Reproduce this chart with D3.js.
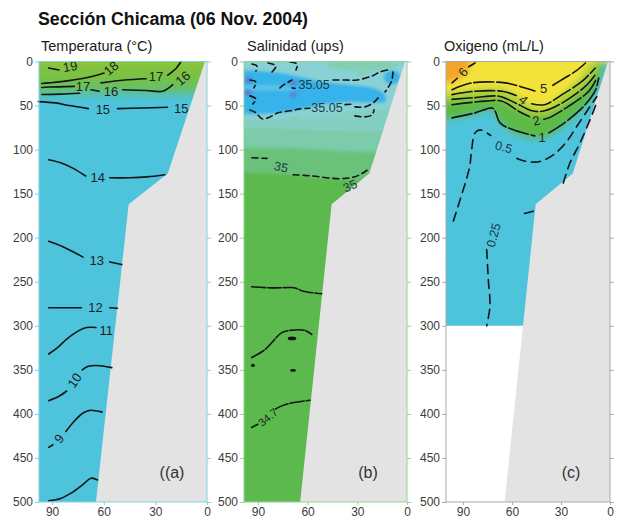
<!DOCTYPE html>
<html>
<head>
<meta charset="utf-8">
<script src="https://cdn.jsdelivr.net/npm/d3@7"></script>
<style>
  body { margin: 0; background: #fff; }
  svg { display: block; font-family: "Liberation Sans", Arial, Helvetica, sans-serif; }
</style>
</head>
<body>
<svg id="chart" width="621" height="520"></svg>
<script>
// ---------- axes ----------
const depthTicks = d3.range(0, 501, 50);      // m
const distTicks = [90, 60, 30, 0];             // km from the coast

// sea-floor profile [km, m]
const shelf = [[0, 0], [1.2, 0], [22.8, 127], [45.5, 162], [64.5, 500], [0, 500]];

// ---------- (a) temperature ----------
// depths where the warm surface layer fades into the 14-15 °C water
const tempSurfaceDepths = [0, 18, 31, 38, 46];
const tempContours = [
  { value: 19, segments: [[[92, 7.4], [86, 9.6]]], labels: [[79.5, 5.5, -10]] },
  { value: 18, segments: [[[96, 25], [91.8, 24.3], [80.2, 21.7], [65.7, 16.4], [59.8, 13]]], labels: [[55.8, 7.5, -40]] },
  { value: 17, segments: [[[61.6, 24.3], [48, 21], [35.4, 19.5]], [[22.8, 15.6], [18, 8], [15.1, 0]]], labels: [[29.6, 17, 0]] },
  { value: 17, segments: [[[96, 29.5], [91.8, 29], [77, 28.2]]], labels: [[72, 28.5, 0]] },
  { value: 16, segments: [[[67.4, 32], [62.6, 33.7]], [[49, 32], [35, 33], [25.7, 33.7], [19.9, 26.3]]], labels: [[55.8, 33.7, 0], [14.1, 19, -40]] },
  { value: 16, segments: [[[96, 37.5], [85, 37], [74, 36]]], labels: [] },
  { value: 15, segments: [[[98, 45.5], [88, 47], [80, 50], [69, 53.5]], [[52, 53.5], [38, 52.8], [23, 52]]], labels: [[60.5, 54, 0], [15, 53, 0]] },
  { value: 14, segments: [[[92, 111.5], [85, 115], [78, 121], [70.5, 130]], [[56.5, 132], [45, 132], [35, 131], [24.4, 128.5]]], labels: [[63.5, 132, 0]] },
  { value: 13, segments: [[[92, 204], [84, 210], [72, 222]], [[56.5, 227.5], [49.5, 230.5]]], labels: [[64, 226, 0]] },
  { value: 12, segments: [[[92, 279.5], [73, 279.5]], [[56.5, 279.5], [52, 280]]], labels: [[64.8, 279.5, 0]] },
  { value: 11, segments: [[[92, 332], [87, 325], [81.5, 315], [75, 306], [70, 302], [64.5, 302]]], labels: [[58.5, 305, 0]] },
  { value: 10, segments: [[[92, 385], [86, 380], [81.5, 374]], [[72.5, 350], [69, 346], [64, 345], [55.3, 347.5]]], labels: [[77, 362, -55]] },
  { value: 9, segments: [[[92, 438], [89.5, 435]], [[82, 420], [77, 408], [72, 399], [68, 396], [61, 398]]], labels: [[86, 428, -50]] },
  { value: 8, segments: [[[92, 498.5], [85, 496], [79, 490], [72, 480], [67.5, 473], [63.5, 475]]], labels: [] }
];

// ---------- (b) salinity ----------
// upper limits of the salinity classes, deepest first
const salLayers = [
  [[98.4, 126], [75, 128], [55, 132], [35, 134], [20, 134], [0, 134]],
  [[98.4, 98], [75, 98], [55, 100], [35, 102], [0, 102]],
  [[98.4, 76], [75, 76], [55, 78], [35, 79], [0, 79]],
  [[98.4, 65], [75, 65], [50, 61], [30, 56], [0, 52]]
];
// core of salinity > 35.05
const salCore = [[98.4, 10], [80.9, 12], [68.8, 15.5], [50.7, 23], [34.4, 26.5], [20.5, 30], [14, 36],
                 [13, 45], [34.4, 46], [50.7, 49], [64.6, 54.5], [80.9, 59], [98.4, 60]];
const salInnerBand = [[98.4, 27], [82, 26.5], [72, 28.5], [66, 31], [72, 33], [82, 33], [98.4, 33]];
// [km, m, half-width km, half-height m]
const salPatchesHigh = [[95.5, 21, 2.4, 4], [68.6, 24.5, 2.2, 3], [68.6, 38, 2.2, 3], [96, 35.5, 2.4, 4]];
const salPatchesCore = [[9, 18, 5, 8]];
const salPatchesLow = [[27, 4, 22, 6], [67.6, 64, 3, 3], [27.3, 13.4, 3, 2.5]];
const salContours = [
  { value: 35.05, segments: [[[93.6, 2.8], [90.6, 5.1], [91.2, 10.8]]], labels: [] },
  { value: 35.05, segments: [[[83.9, 1.7], [79.1, 5.1], [81.5, 11.9]]], labels: [] },
  { value: 35.05, segments: [[[70.6, 0.6], [66.4, 2.8], [67, 9.6]]], labels: [] },
  { value: 35.05, segments: [[[94.8, 21], [91.2, 23.2], [92.4, 30]]], labels: [] },
  { value: 35.05, segments: [[[94.8, 39], [91.2, 42.5], [93, 48.1]]], labels: [] },
  { value: 35.05, segments: [[[76.7, 30], [73.6, 25.5], [69.4, 21]], [[69.4, 30], [67.6, 30.5]],
      [[44.7, 21], [37.4, 21], [30.2, 21], [21.1, 16.4], [16.3, 11.9], [11.5, 9.6]],
      [[8.5, 11.9], [9.1, 21], [11.5, 30], [13.3, 34.5]]], labels: [[56.1, 26.3, 0]] },
  { value: 35.05, segments: [[[94.8, 54.9], [91.2, 58.3], [87.5, 65.1], [82.7, 62.9], [77.9, 58.3], [70.6, 56], [64.6, 53.8], [58.6, 53]],
      [[37.4, 49], [34, 48.5]],
      [[31.4, 51.5], [25.4, 51.5], [20.5, 47], [17.5, 41.3], [16.3, 38]],
      [[31.4, 61.7], [25.4, 62.9], [21.1, 60.6], [19.9, 54.9]]], labels: [[48.3, 52.7, 0]] },
  { value: 35, segments: [[[93.6, 109.3], [84.5, 110]], [[68.8, 128.5], [58.6, 129.7], [40.4, 133], [31.4, 130.8], [25.4, 125.1], [22.3, 120.6]]],
      labels: [[76, 119.5, 12], [34.4, 141, -25]] }
];
const salDeepContours = [
  { value: 34.9, segments: [[[93.8, 255.7], [80, 257], [70, 256.5], [67.6, 257], [62.6, 260.7], [51.5, 263.6]]], labels: [] },
  { value: 34.8, segments: [[[93.8, 336], [85.7, 327], [75.6, 307.8], [70.6, 305.2], [61.6, 305.2], [57.5, 309.7]]], labels: [] },
  { value: 34.7, segments: [[[93.8, 415.4], [90, 411.7]], [[79.5, 394.6], [75.6, 390.9], [70.6, 387.9], [58.6, 384.5]]], labels: [[83.9, 403.7, -40]] }
];
const salSpots = [[69.4, 314.3, 2.6, 2.2], [93, 345, 1.2, 1.8], [68.8, 350.6, 1.8, 1.6]];

// ---------- (c) dissolved oxygen ----------
const oxyMaxDepth = 300;
const oxyLayers = [
  // top of the 0.5-1 mL/L layer (green)
  [[100.4, 67], [83, 61], [72.5, 56], [69, 66], [66, 73], [60, 81], [46, 88], [38, 86], [29, 75], [17, 56], [9, 37], [5, 18], [3, 0]],
  // top of the 2-3 mL/L layer (yellow-green)
  [[100.4, 45], [82.6, 43], [68, 43], [58, 53], [48, 61], [40, 61], [28, 49], [16, 31], [9, 16], [7, 0]],
  // top of the 4-5 mL/L layer (yellow)
  [[100.4, 36], [82.6, 31], [66, 31], [56, 40], [48, 50], [42, 53], [36, 48], [28, 34], [19, 19], [12, 0]]
];
const oxyCoreHigh = [[100.4, 0, 15, 24]];
const oxyContours = [
  { value: 6, segments: [[[96.7, 24.3], [93.5, 19]], [[86.5, 6], [82.6, 1.7]]], labels: [[90, 12, -50]] },
  { value: 5, segments: [[[96.7, 32], [84.5, 24.3], [64.3, 24.3], [52, 30], [46, 33.4]], [[35, 27], [28, 19], [21, 11], [15, 1.7]]], labels: [[40.6, 31, 0]] },
  { value: 4, segments: [[[96.7, 37.6], [82.6, 33.8], [66, 33.8], [57.5, 38.5]], [[48, 48], [40, 49], [29.4, 37.6], [17, 22.4], [9, 7.4]]], labels: [[53, 43.5, 40]] },
  { value: 3, segments: [[[96.7, 43], [82.6, 41], [68, 39.4], [58, 47], [47.7, 56], [40, 56], [27.4, 45], [15, 28], [9, 15]]], labels: [] },
  { value: 2, segments: [[[96.7, 49], [76.4, 45], [66, 45], [56, 56.4], [49.5, 62.5]], [[40.5, 65.5], [37.5, 64], [25.3, 50.7], [13, 33.8], [8, 18.7]]], labels: [[45.2, 67, -15]] },
  { value: 1, segments: [[[96.7, 64], [82.6, 58.3], [72.2, 52.7], [70.4, 56], [67.3, 69.7], [60, 77], [46, 84.4]], [[37.5, 81], [29.4, 71.6], [17.1, 52.7], [9.2, 33.7], [6.9, 18.7]]], labels: [[41.6, 86, 0]] },
  { value: 0.5, segments: [[[95.9, 181], [91.8, 157], [86, 120], [84.7, 100], [82.6, 81], [79.6, 77.6], [73, 84]],
      [[57, 110], [51, 113.5], [42.9, 113.5], [34.7, 106], [26.5, 90.8], [20.4, 73.8], [12.2, 51], [8.1, 40]]], labels: [[65, 97, 15]] },
  { value: 0.5, segments: [[[28.6, 138], [24.5, 115], [18.4, 92.6], [12.2, 66], [8.2, 47]]], labels: [] },
  { value: 0.25, segments: [[[47, 170], [55.1, 173.8]], [[75.5, 213.5], [74.5, 247.5], [73.5, 277.7], [75.5, 300]]], labels: [[71.4, 197, -75]] }
];

// ---------- layout & styles ----------
const palette = {
  cyan: "#4ec4dc",
  tempSurface: ["#8ac43f", "#78c143", "#66c06a", "#55c2b6", "#4ec4dc"],
  salt: ["#5cb94d", "#6ac27a", "#7ccbaa", "#84cfc2", "#88d1d4"],
  saltCore: "#34b3ea", saltInner: "#58c3e8", saltHigh: "#5a7fd0", saltLow: "#82cfb2",
  oxy: ["#5cba46", "#a9d03b", "#f2e33b"], oxyHigh: "#f4a62b",
  land: "#e3e3e3", ink: "#151515", tick: "#3c3c3c"
};

const y = d3.scaleLinear().domain([0, 500]).range([61.5, 502]);
const panels = [
  { id: "a", x0: 39, x1: 207, dMax: 97.6, frame: "#84d0e0", title: "Temperatura (°C)", tx: 41, tag: "((a)", tagX: 172 },
  { id: "b", x0: 244, x1: 407, dMax: 98.4, frame: "#94d28f", title: "Salinidad (ups)", tx: 247, tag: "(b)", tagX: 368 },
  { id: "c", x0: 446, x1: 610, dMax: 100.4, frame: "#a9a9a9", title: "Oxigeno (mL/L)", tx: 444, tag: "(c)", tagX: 571 }
];

const svg = d3.select("#chart");
const defs = svg.append("defs");

svg.append("text")
  .attr("x", 38).attr("y", 25)
  .attr("font-size", 18).attr("font-weight", "bold").attr("fill", "#111")
  .attr("textLength", 270).attr("lengthAdjust", "spacingAndGlyphs")
  .text("Sección Chicama (06 Nov. 2004)");

function makeBlur(id, sd) {
  defs.append("filter").attr("id", id)
    .attr("x", "-20%").attr("y", "-20%").attr("width", "140%").attr("height", "140%")
    .append("feGaussianBlur").attr("stdDeviation", sd);
}
makeBlur("soft-b", 1.6);
makeBlur("soft-c", 3.2);

panels.forEach(p => {
  const x = d3.scaleLinear().domain([p.dMax, 0]).range([p.x0, p.x1]);
  const g = svg.append("g").attr("class", "panel-" + p.id);
  const yTop = y(0), yBot = y(500);

  const line = d3.line().x(d => x(d[0])).y(d => y(d[1])).curve(d3.curveCatmullRom.alpha(0.5));
  const closed = d3.line().x(d => x(d[0])).y(d => y(d[1])).curve(d3.curveCatmullRomClosed.alpha(0.5));
  // region lying above a boundary line, padded past the frame so blurring keeps the edges solid
  const above = pts => {
    const first = pts[0], last = pts[pts.length - 1];
    return `M${x(p.dMax + 20)},${y(-25)}L${x(p.dMax + 20)},${y(first[1])}L${x(first[0])},${y(first[1])}L` +
      line(pts).slice(1) + `L${x(-20)},${y(last[1])}L${x(-20)},${y(-25)}Z`;
  };
  const ellipse = (sel, data, fill) => sel.selectAll(null).data(data).join("ellipse")
    .attr("cx", d => x(d[0])).attr("cy", d => y(d[1]))
    .attr("rx", d => Math.abs(x(d[0] + d[2]) - x(d[0]))).attr("ry", d => y(d[3]) - y(0))
    .attr("fill", fill);

  const fillBottom = p.id === "c" ? oxyMaxDepth : 500;
  defs.append("clipPath").attr("id", "clip-" + p.id)
    .append("rect").attr("x", p.x0).attr("y", yTop).attr("width", p.x1 - p.x0).attr("height", y(fillBottom) - yTop);
  defs.append("clipPath").attr("id", "frame-" + p.id)
    .append("rect").attr("x", p.x0).attr("y", yTop).attr("width", p.x1 - p.x0).attr("height", yBot - yTop);

  const clipped = g.append("g").attr("clip-path", `url(#clip-${p.id})`);

  if (p.id === "a") {
    const grad = defs.append("linearGradient").attr("id", "temp-grad")
      .attr("gradientUnits", "userSpaceOnUse").attr("x1", 0).attr("x2", 0).attr("y1", y(0)).attr("y2", y(500));
    tempSurfaceDepths.forEach((dep, i) => grad.append("stop")
      .attr("offset", dep / 500).attr("stop-color", palette.tempSurface[i]));
    clipped.append("rect").attr("x", p.x0).attr("y", yTop).attr("width", p.x1 - p.x0).attr("height", yBot - yTop)
      .attr("fill", "url(#temp-grad)");
  }

  if (p.id === "b") {
    const soft = clipped.append("g").attr("filter", "url(#soft-b)");
    soft.append("rect").attr("x", p.x0 - 20).attr("y", yTop - 20).attr("width", p.x1 - p.x0 + 40).attr("height", yBot - yTop + 40)
      .attr("fill", palette.salt[0]);
    salLayers.forEach((b, i) => soft.append("path").attr("d", above(b)).attr("fill", palette.salt[i + 1]));
    ellipse(soft, salPatchesLow.slice(0, 1), palette.saltLow);
    const core = [[p.dMax + 20, salCore[0][1]], ...salCore, [p.dMax + 20, salCore[salCore.length - 1][1]]];
    soft.append("path").attr("d", closed(core)).attr("fill", palette.saltCore);
    soft.append("path").attr("d", closed([[p.dMax + 20, 27], ...salInnerBand, [p.dMax + 20, 33]])).attr("fill", palette.saltInner);
    ellipse(soft, salPatchesCore, palette.saltCore);
    ellipse(soft, salPatchesHigh, palette.saltHigh);
    ellipse(soft, salPatchesLow.slice(1), palette.saltLow);
  }

  if (p.id === "c") {
    const soft = clipped.append("g").attr("filter", "url(#soft-c)");
    soft.append("rect").attr("x", p.x0 - 20).attr("y", yTop - 20).attr("width", p.x1 - p.x0 + 40).attr("height", yBot - yTop + 40)
      .attr("fill", palette.cyan);
    oxyLayers.forEach((b, i) => soft.append("path").attr("d", above(b)).attr("fill", palette.oxy[i]));
    ellipse(soft, oxyCoreHigh, palette.oxyHigh);
  }

  // sea floor over the whole depth range
  g.append("path").attr("clip-path", `url(#frame-${p.id})`)
    .attr("d", d3.line().x(d => x(d[0])).y(d => y(d[1]))(shelf) + "Z").attr("fill", palette.land);

  // contour lines and their labels
  const drawContours = (set, dash, labelSize, labelFill) => {
    set.forEach(c => {
      c.segments.forEach(seg => g.append("path").attr("d", line(seg))
        .attr("fill", "none").attr("stroke", palette.ink).attr("stroke-width", 1.6)
        .attr("stroke-dasharray", dash).attr("stroke-linecap", "round"));
      c.labels.forEach(l => g.append("text")
        .attr("transform", `translate(${x(l[0])},${y(l[1])}) rotate(${l[2]})`)
        .attr("text-anchor", "middle").attr("dy", "0.36em")
        .attr("font-size", labelSize).attr("fill", labelFill).text(c.value));
    });
  };
  if (p.id === "a") drawContours(tempContours, null, 13, "#1f1f1f");
  if (p.id === "b") {
    drawContours(salContours, "6,4", 12.5, "#1f3a48");
    drawContours(salDeepContours, "14,2", 11, "#1f1f1f");
    salSpots.forEach(s => g.append("ellipse").attr("cx", x(s[0])).attr("cy", y(s[1]))
      .attr("rx", Math.abs(x(s[0] + s[2]) - x(s[0]))).attr("ry", y(s[3]) - y(0)).attr("fill", palette.ink));
  }
  if (p.id === "c") {
    drawContours(oxyContours.filter(c => c.value >= 1), "20,3", 13, "#1f2a20");
    drawContours(oxyContours.filter(c => c.value < 1), "9,6", 12.5, "#1f3a48");
  }

  // frame and axes
  g.append("rect").attr("x", p.x0).attr("y", yTop).attr("width", p.x1 - p.x0).attr("height", yBot - yTop)
    .attr("fill", "none").attr("stroke", p.frame).attr("stroke-width", 1);

  const styleAxis = a => {
    a.select(".domain").remove();
    a.selectAll(".tick line").attr("stroke", p.frame);
    a.selectAll(".tick text").attr("font-size", 12).attr("fill", palette.tick).attr("font-family", null);
  };
  g.append("g").attr("transform", `translate(${p.x0},0)`)
    .call(d3.axisLeft(y).tickValues(depthTicks).tickSize(4).tickPadding(2)).call(styleAxis);
  g.append("g").attr("transform", `translate(${p.x1},0)`)
    .call(d3.axisRight(y).tickValues(depthTicks).tickSize(4).tickFormat("")).call(styleAxis);
  g.append("g").attr("transform", `translate(0,${yBot})`)
    .call(d3.axisBottom(x).tickValues(distTicks).tickSize(3).tickPadding(2)).call(styleAxis);

  g.append("text").attr("x", p.tx).attr("y", 51).attr("font-size", 14.5).attr("fill", "#1a1a1a").text(p.title);
  g.append("text").attr("x", p.tagX).attr("y", 472).attr("text-anchor", "middle").attr("dy", "0.36em")
    .attr("font-size", 16).attr("fill", "#333").text(p.tag);
});
</script>
</body>
</html>
